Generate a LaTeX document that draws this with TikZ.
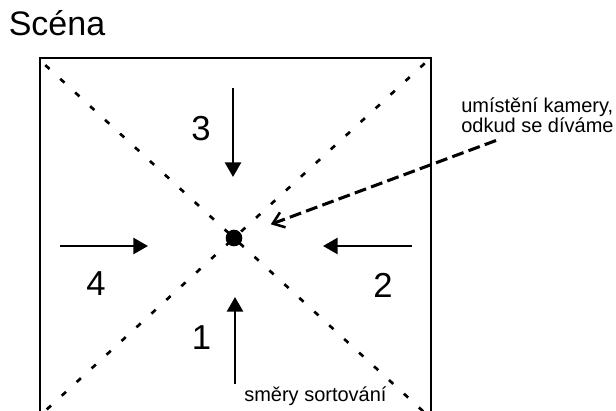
\documentclass[tikz,border=0pt]{standalone}
\usepackage{fontspec}
\setmainfont{Liberation Sans}
\usetikzlibrary{arrows.meta,calc}
\begin{document}
\begin{tikzpicture}[x=0.75pt,y=-0.75pt,
  frame/.style={line width=1.8pt},
  diag/.style={line width=2pt, dash pattern=on 4.3pt off 10.9pt},
  sortarrow/.style={line width=2pt, -{Triangle[length=11pt,width=12pt]}},
  camarrow/.style={line width=2.3pt, dash pattern=on 9pt off 4pt,
     -{Straight Barb[length=8pt,width=12pt,line width=1.9pt]}},
  num/.style={font=\fontsize{26pt}{30pt}\selectfont, inner sep=0},
  lbl/.style={font=\fontsize{15pt}{15pt}\selectfont, inner sep=0},
  ttl/.style={font=\fontsize{25.5pt}{30pt}\selectfont, inner sep=0}]
\useasboundingbox (0,0) rectangle (616,410);
\clip (0,0) rectangle (616,410);
% title
\node[ttl, anchor=base west] (title) at (8.5,36) {Scéna};
% scene frame
\draw[frame] (40,440) -- (40,58) -- (431,58) -- (431,440);
% diagonals
\coordinate (tl) at (45.3,65.1);
\coordinate (tr) at (424.7,63.4);
\coordinate (ctr) at (234,238);
\draw[diag] (tl) -- ($(tl)!2.3!(ctr)$);
\draw[diag] (tr) -- ($(tr)!2.3!(ctr)$);
\node[circle, fill, minimum size=12.5pt, inner sep=0] (dot) at (ctr) {};
% sorting directions
\coordinate (a3s) at (233,88);  \coordinate (a3e) at (233,177);
\coordinate (a4s) at (60,246);  \coordinate (a4e) at (148,246);
\coordinate (a2s) at (412,246); \coordinate (a2e) at (323,246);
\coordinate (a1s) at (235,384); \coordinate (a1e) at (235,297);
\draw[sortarrow] (a3s) -- (a3e);
\draw[sortarrow] (a4s) -- (a4e);
\draw[sortarrow] (a2s) -- (a2e);
\draw[sortarrow] (a1s) -- (a1e);
\node[num] (n3) at (201,129) {3};
\node[num] (n4) at (96,284) {4};
\node[num] (n2) at (383,285) {2};
\node[num] (n1) at (201.5,337.5) {1};
% camera
\node[lbl, anchor=base west, align=left] (cam) at (461,132.3) {umístění kamery,\\odkud se díváme};
\coordinate (camstart) at (496,140.5);
\draw[camarrow, shorten >=23pt] (camstart) -- (dot);
\node[lbl, anchor=base west] (sort) at (244,401.5) {směry sortování};
\end{tikzpicture}
\end{document}
